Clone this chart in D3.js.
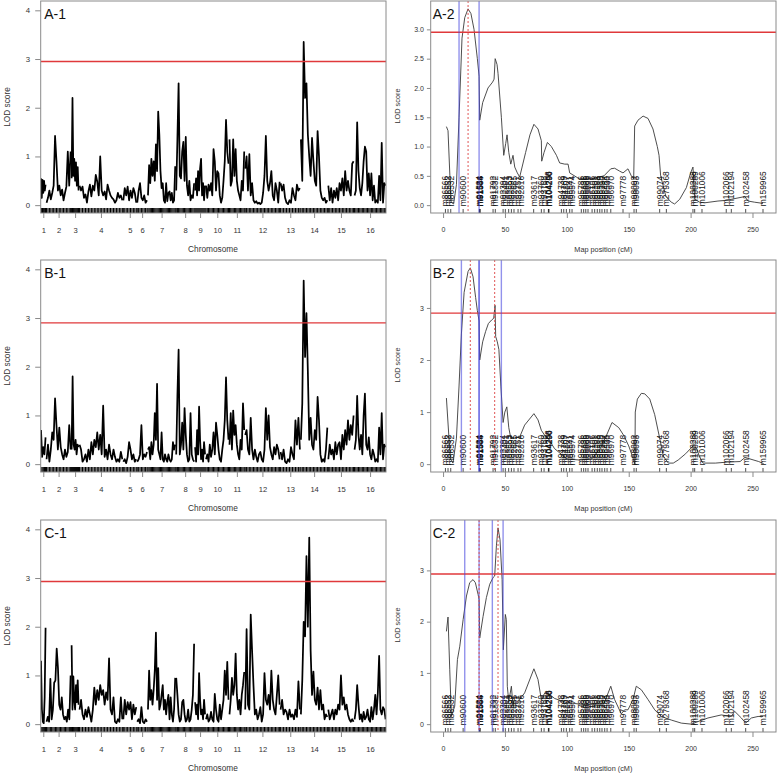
<!DOCTYPE html>
<html><head><meta charset="utf-8">
<script src="https://cdn.jsdelivr.net/npm/d3@7"></script>
<style>
body{margin:0;background:#fff}
svg{display:block;font-family:"Liberation Sans",Arial,Helvetica,sans-serif}
</style></head><body>
<svg id="c" width="778" height="774"></svg>
<script>
// ---------------- DATA ----------------
const chromosomes = ["1","2","3","4","5","6","7","8","9","10","11","12","13","14","15","16"];
const chromLengths = [46,242,70,430,130,98,274,180,100,226,148,346,194,266,254,312]; // cM
const chromGap = 10;
const yTicksGenome = [0,1,2,3,4];
const genomeYMax = 4.03;

// LOD profiles per chromosome (evenly spaced scan points along each chromosome)
const lodA1 = [
 [0.55,0.15,0.52,0.25,0.5,0.3,0.42],
 [0.05,0.15,0.3,0.12,0.25,0.4,1.42,0.9,0.3,0.4,0.2,0.32,0.1,0.25,0.38,1.1,0.4,1.1],
 [0.55,2.2,0.6,0.95,0.5,0.88,0.4,0.78,0.3],
 [0.4,0.3,0.38,0.15,0.22,0.05,0.28,0.42,0.18,0.4,0.3,0.62,0.48,0.2,1.0,0.3,0.2,0.28,0.12,0.42,0.3,0.2,0.15,0.12,0.05,0.1,0.25,0.15,0.2,0.1],
 [0.1,0.35,0.2,0.38,0.1,0.3,0.15,0.35,0.25,0.05],
 [0.05,0.3,0.45,0.15,0.1,0.2,0.05,0.1],
 [0.2,0.82,0.45,0.95,0.6,0.9,0.5,1.25,0.7,1.92,1.45,0.7,0.35,0.45,0.1,0.05,0.45,0.08,0.25,0.28,0.1,0.25,0.05,0.1,0.8],
 [0.3,1.35,2.5,0.6,0.55,1.1,1.3,0.5,1.4,0.4,0.2,0.5,0.1,0.2,0.15,0.45],
 [0.3,0.55,0.2,0.7,0.3,0.75,0.95,0.2,0.45,0.1,0.4],
 [0.4,0.15,0.42,0.3,0.45,0.2,1.15,0.9,0.3,0.7,0.65,0.2,0.05,0.15,0.5,0.9,1.75,1.1,0.85],
 [1.35,0.4,0.5,1.35,0.6,1.15,0.5,0.3,0.2,0.1,0.5,0.3,1.1],
 [0.75,1.0,0.3,1.05,0.2,0.45,0.1,0.05,0.08,0.03,0.05,0.02,0.05,0.25,0.6,1.42,0.5,0.3,0.45,0.7,0.2,0.1,0.45,0.3,0.05,0.48],
 [0.45,0.3,0.42,0.15,0.05,0.02,0.1,0.05,0.35,0.2,0.1,0.42,0.3,0.35],
 [1.35,0.5,3.35,2.2,2.5,1.45,1.0,0.6,1.38,0.9,0.5,0.4,1.52,1.0,0.3,0.15,0.1,0.15,0.05,0.1],
 [0.4,0.1,0.35,0.05,0.3,0.15,0.35,0.1,0.45,0.3,0.55,0.2,0.7,0.3,0.5,0.3,0.2,0.85,0.9],
 [0.2,0.3,1.7,0.7,0.35,0.2,0.45,0.9,1.2,1.1,0.3,0.65,0.2,0.65,0.1,0.4,0.05,0.1,0.05,0.6,0.1,1.28,0.05,0.45,0.4]
];
const lodB1 = [
 [0.7,0.15,0.35,0.2,0.55],
 [0.1,0.4,0.05,0.3,0.65,0.5,1.35,0.8,0.3,0.75,0.35,0.2,0.1,0.3,0.15,0.25,0.8,0.3],
 [0.3,1.8,0.4,0.3,0.5,0.2,0.4,0.35],
 [0.4,0.3,0.05,0.1,0.2,0.05,0.3,0.1,0.45,0.2,0.5,0.35,0.65,0.3,0.6,0.2,1.2,0.15,0.3,0.1,0.4,0.2,0.1,0.3,0.15,0.05,0.1,0.05,0.25,0.1],
 [0.05,0.1,0.02,0.15,0.45,0.3,0.1,0.2,0.05,0.1],
 [0.05,0.1,0.2,0.8,0.1,0.2,0.15,0.25],
 [0.3,0.35,0.1,0.45,0.2,0.4,1.05,0.5,1.65,0.3,0.2,0.1,0.65,0.1,0.05,0.2,0.1,0.05,0.2,0.1,0.05,0.1,0.45,0.3,0.4],
 [0.2,1.4,2.35,0.2,0.4,0.85,0.3,1.15,0.6,0.2,0.05,0.1,1.05,0.2,0.1,0.05],
 [0.35,0.05,0.7,0.2,1.18,0.5,0.1,0.3,0.05,0.45,0.2],
 [0.1,0.2,0.05,0.4,0.15,0.3,0.65,0.2,0.85,0.6,0.3,0.1,0.05,0.3,0.5,0.9,1.78,0.9,0.5],
 [0.4,1.05,0.3,1.1,0.6,0.8,0.4,0.2,0.1,0.5,0.3,1.25,0.7],
 [0.6,0.7,0.3,0.2,0.95,0.3,0.1,0.3,0.15,0.05,0.2,0.25,0.1,0.05,0.3,1.15,0.5,1.0,0.35,0.2,0.1,0.35,0.2,0.4,0.3,0.1],
 [0.25,0.1,0.3,0.05,0.02,0.1,0.05,0.35,0.2,0.1,0.9,0.4,0.95,0.3],
 [0.5,1.25,3.77,2.2,3.1,1.9,0.5,0.95,0.4,0.3,0.7,0.5,1.38,0.9,0.2,0.05,0.1,0.05,0.3,0.75],
 [0.1,0.4,0.2,0.3,0.1,0.45,0.2,0.4,0.45,0.1,0.6,0.3,0.7,0.4,0.9,0.5,0.8,0.6,1.0],
 [0.3,0.5,1.4,0.6,0.3,0.6,0.2,1.0,1.45,0.4,0.3,0.55,0.2,0.1,0.3,0.2,0.05,0.1,0.05,0.75,0.2,1.05,0.1,0.4,0.35]
];
const lodC1 = [
 [1.3,0.3,0.05,0.02,0.55,1.98],
 [0.05,0.15,0.05,0.93,0.1,0.3,0.85,0.9,1.55,1.15,0.4,0.3,0.55,0.2,0.1,0.15,0.05,0.3,0.1,1.0],
 [1.62,0.3,0.98,0.5,0.3,0.8,0.45,0.9,0.4],
 [0.3,0.5,0.2,0.1,0.3,0.15,0.35,0.2,0.05,0.3,0.75,0.4,0.7,0.5,0.8,0.6,0.7,0.4,0.65,0.5,1.35,0.3,0.2,0.55,0.05,0.02,0.1,0.05,0.55,0.1],
 [0.1,0.5,0.2,0.45,0.3,0.45,0.1,0.4,0.2,0.35],
 [0.05,0.1,0.02,0.35,0.05,0.02,0.1,0.05],
 [0.3,1.1,0.5,0.7,0.4,0.7,1.1,1.88,0.5,1.15,0.3,0.4,0.6,0.8,0.3,0.5,0.2,0.45,0.6,0.1,0.55,0.2,0.05,0.3,0.95],
 [0.95,0.6,0.2,0.05,0.1,0.45,0.5,0.2,0.05,0.1,0.3,0.05,0.1,0.3,0.6,1.65],
 [0.45,0.2,0.4,0.1,1.05,0.5,0.2,0.3,0.1,0.5,0.2],
 [0.1,0.2,0.05,0.1,0.25,0.1,0.05,0.62,0.3,0.1,0.05,0.4,0.1,0.3,0.5,1.1,0.6,1.28,0.5],
 [0.2,0.5,0.95,0.6,0.8,1.45,0.6,0.3,0.5,0.2,0.6,0.8,1.07],
 [0.3,1.95,0.4,0.3,2.25,1.5,0.8,0.2,0.3,0.1,0.2,0.35,0.05,0.2,1.05,0.5,0.4,0.6,0.3,1.1,0.5,0.3,0.2,0.6,1.0,0.4],
 [0.3,0.5,0.2,0.3,0.25,0.1,0.3,0.15,0.2,0.1,0.3,0.15,0.88,0.3],
 [0.2,0.9,2.1,1.8,3.45,2.0,3.83,1.5,0.6,1.08,0.5,0.4,0.75,0.3,0.7,0.3,0.4,0.1,0.2,0.15],
 [0.3,0.1,0.2,0.3,0.1,0.3,0.2,0.4,0.3,1.0,0.4,0.55,0.3,0.4,0.2,0.1,0.05,0.1,0.05],
 [0.1,0.3,0.8,0.4,0.1,0.2,0.05,0.25,0.1,0.15,0.3,0.1,0.05,0.35,0.1,0.3,0.6,0.2,0.65,1.4,0.3,0.2,0.35,0.3,0.1]
];

// Chromosome 14 map: marker names and positions (cM)
const markerNames = ["m86566","m86552","m86532","m90600","m91534","m91538","m91544","m91554","m91792","m91832",
 "m92394","m92401","m92553","m92597","m92665","m92751","m92816","m93617","m93760","m93768",
 "m104288","m104290","m104296","m94738","m94769","m94807","m95541","m95574","m95786","m95836",
 "m95889","m95899","m96106","m96201","m96288","m96319","m96390","m96484","m96530","m96970",
 "m97778","m98092","m98093","m99074","m279368","m100288","m100289","m101006","m102066","m102194",
 "m102458","m159965"];
const markerPos = [1.9,4.0,6.2,16.2,29.3,29.5,29.7,29.9,40.4,42.2,
 48.5,50.3,53.0,55.2,57.3,60.6,62.8,73.2,79.4,81.6,
 85.1,85.3,85.5,95.6,97.5,99.6,102.3,104.2,111.7,113.6,
 115.3,117.1,120.4,122.5,124.6,126.6,128.4,130.6,132.5,135.5,
 145.4,154.3,156.1,175.0,180.4,201.9,203.3,209.2,228.8,232.9,
 244.5,258.5];
const xTicksMap = [0,50,100,150,200,250];
const mapXLim = [-10,269];

// LOD along chromosome 14: [cM, LOD]
const curveA2 = [[2.7,1.34],[4.0,1.27],[5.5,0.5],[6.5,0.05],[8.5,0.02],[10.8,0.35],[12.9,1.5],[15.3,2.85],[17.5,3.2],[20.2,3.35],[22.5,3.27],[25,3.0],[27.7,2.5],[29.1,2.2],[29.6,1.45],[32,1.75],[36.3,2.0],[40,2.1],[41.2,2.15],[42.1,2.5],[43.6,2.4],[44.4,2.25],[47.1,1.5],[49,0.85],[50.6,1.05],[51.7,1.2],[53.1,0.9],[54.7,0.7],[56.5,0.85],[57.9,0.65],[60,0.55],[61.9,0.48],[66.7,0.9],[70.2,1.2],[73.4,1.38],[76.7,1.3],[79.4,1.1],[79.7,0.75],[81.6,0.9],[84.3,1.07],[87.5,1.0],[91.6,0.85],[94.2,0.72],[98.3,0.7],[101,0.7],[102.3,0.55],[110,0.45],[120,0.45],[130,0.5],[135.5,0.62],[138.6,0.63],[142.7,0.58],[145.4,0.55],[149.4,0.62],[152.1,0.5],[154,0.45],[154.8,1.35],[157.5,1.45],[161.6,1.52],[165.6,1.48],[169.6,1.3],[173.1,1.0],[174.5,0.85],[175.8,0.5],[180,0.15],[184.4,0.05],[187.1,0.02],[191.2,0.1],[196.6,0.3],[200,0.55],[201.9,0.65],[203.3,0.1],[207.3,0.05],[211.4,0.04],[222.1,0.07],[227.5,0.08],[232.9,0.1],[242.3,0.14],[243.7,0.15],[246.4,0.07],[251.8,0.05],[258.5,0.03]];
const curveB2 = [[2.7,1.27],[4.6,0.56],[5.9,0.1],[8,0.02],[10.8,0.5],[12.9,1.5],[14.8,2.5],[17,3.3],[20.2,3.7],[22,3.77],[24.2,3.6],[26.3,3.2],[27.7,2.95],[29.1,2.75],[29.6,2.0],[32,2.35],[34.4,2.55],[36.6,2.7],[39.3,2.77],[40.9,2.8],[42,3.05],[42.5,2.45],[43.8,2.35],[45.1,2.2],[46.7,1.5],[48.5,0.8],[49.9,1.0],[51.5,1.1],[53.1,0.7],[54.7,0.5],[57.9,0.5],[61.9,0.52],[65.9,0.75],[73.4,0.97],[76.7,0.85],[79.4,0.65],[82.2,0.55],[84.8,0.5],[90,0.3],[100,0.1],[110,0.08],[120,0.1],[127,0.3],[132,0.55],[136.5,0.8],[142,0.7],[146,0.55],[150,0.35],[153,0.15],[155,0.0],[155.3,1.0],[157,1.25],[160.2,1.36],[163,1.35],[167,1.25],[171,0.95],[175,0.5],[178,0.15],[182,0.02],[186,0.02],[190,0.08],[196,0.2],[202,0.35],[205,0.3],[207,0.15],[210,0.02],[220,0.02],[230,0.04],[240,0.05],[244,0.13],[248,0.1],[255,0.05],[259,0.01]];
const curveC2 = [[2.7,1.81],[4.0,2.09],[5.4,1.06],[6.7,0.15],[9.4,0.35],[11.6,1.26],[13.5,1.52],[16.2,2.04],[18.9,2.5],[21.5,2.76],[24.2,2.82],[26.1,2.76],[28.3,2.53],[29.1,2.43],[29.6,1.68],[32.3,2.1],[35,2.47],[37.7,2.73],[40.4,2.86],[41.7,2.89],[43.1,3.48],[44.4,3.83],[46,3.6],[47.7,2.82],[48.7,1.45],[50.3,2.14],[51.1,2.04],[51.9,0.74],[53.1,0.44],[55.2,0.74],[56.5,0.35],[57.9,0.54],[61.9,0.48],[65.9,0.61],[73.4,1.08],[76.7,0.87],[79.4,0.48],[82.2,0.61],[84.8,0.6],[90.2,0.5],[100,0.42],[115,0.38],[130,0.4],[135.5,0.74],[138.6,0.48],[144,0.2],[146.7,0.28],[149.4,0.28],[153.5,0.48],[156.1,0.74],[160.2,0.67],[165.6,0.48],[171,0.28],[176.3,0.15],[184.4,0.08],[192.5,0.02],[200.6,0.0],[206,0.05],[214,0.12],[224.8,0.18],[232.9,0.15],[235.6,0.25],[241,0.12],[244.5,0.02],[249.1,0.12],[254.5,0.15],[258.5,0.15]];

const thresholds = [2.95, 2.9, 2.93];
const peaksA = [20.2], ciA = [[12.9,29.1]];
const peaksB = [22.0,41.7], ciB = [[14.8,29.1],[29.1,47.1]];
const peaksC = [29.1,44.4], ciC = [[17.5,29.1],[39.8,48.5]];
const yTicksA2 = [0,0.5,1,1.5,2,2.5,3];
const yTicksBC2 = [0,1,2,3];
const panelLabels = ["A-1","A-2","B-1","B-2","C-1","C-2"];

// ---------------- LAYOUT ----------------
const svg = d3.select("#c");
const rowsTop = [1, 260, 520];
const H = 212;
const LP = {x0:40.7, x1:386}, RP = {x0:430.7, x1:776};
const FRAME = "#8a8a8a", TXT = "#333";

const chromStart = []; let acc = 0;
chromLengths.forEach(len => { chromStart.push(acc); acc += len + chromGap; });
const genomeEnd = acc - chromGap;
const chromMid = chromLengths.map((len,i) => chromStart[i] + len/2);
const xGenome = d3.scaleLinear().domain([-3, genomeEnd + 4]).range([LP.x0, LP.x1]);
const xMap = d3.scaleLinear().domain(mapXLim).range([RP.x0, RP.x1]);

let clipN = 0;
function clip(x0, T, w){
  const id = "cl" + (clipN++);
  svg.append("clipPath").attr("id", id).append("rect")
    .attr("x", x0).attr("y", T).attr("width", w).attr("height", H);
  return `url(#${id})`;
}
function styleAxis(g, fs){
  g.select(".domain").remove();
  g.selectAll(".tick line").attr("stroke", FRAME).attr("stroke-width", 1);
  g.selectAll(".tick text").attr("fill", TXT).attr("font-size", fs)
    .attr("font-family", '"Liberation Sans",Arial,sans-serif');
}

function drawGenome(T, lod, label, thr){
  const y = d3.scaleLinear().domain([-0.04*genomeYMax, genomeYMax*1.04]).range([T+H, T]);
  const plot = svg.append("g").attr("clip-path", clip(LP.x0, T, LP.x1-LP.x0));
  lod.forEach((vals, ci) => {
    const pts = vals.map((v,i) => [chromStart[ci] + (i/(vals.length-1))*chromLengths[ci], v]);
    plot.append("path")
      .attr("d", d3.line().x(d => xGenome(d[0])).y(d => y(d[1]))(pts))
      .attr("fill","none").attr("stroke","#000").attr("stroke-width",1.75).attr("stroke-linejoin","round");
    plot.selectAll(null).data(pts).join("line")
      .attr("x1", d => xGenome(d[0])).attr("x2", d => xGenome(d[0]))
      .attr("y1", T+H).attr("y2", T+H-5).attr("stroke","#000").attr("stroke-width",1.1);
  });
  plot.append("line").attr("x1",LP.x0).attr("x2",LP.x1).attr("y1",y(thr)).attr("y2",y(thr))
    .attr("stroke","#e0393b").attr("stroke-width",1.4);
  svg.append("rect").attr("x",LP.x0).attr("y",T).attr("width",LP.x1-LP.x0).attr("height",H)
    .attr("fill","none").attr("stroke",FRAME).attr("stroke-width",1);
  const ya = svg.append("g").attr("transform",`translate(${LP.x0},0)`)
    .call(d3.axisLeft(y).tickValues(yTicksGenome).tickFormat(d3.format("d")).tickSize(5.5).tickPadding(5));
  styleAxis(ya, 7.8);
  const xa = svg.append("g").attr("transform",`translate(0,${T+H})`)
    .call(d3.axisBottom(xGenome).tickValues(chromMid).tickFormat((d,i) => chromosomes[i]).tickSize(5).tickPadding(9.5));
  styleAxis(xa, 7.6);
  svg.append("text").attr("x",213).attr("y",T+248).attr("dy","0.35em").attr("text-anchor","middle")
    .attr("font-size",8.3).attr("fill",TXT).text("Chromosome");
  svg.append("text").attr("transform",`translate(7,${T+106}) rotate(-90)`).attr("dy","0.35em")
    .attr("text-anchor","middle").attr("font-size",8.3).attr("fill",TXT).text("LOD score");
  svg.append("text").attr("x",LP.x0+3.5).attr("y",T+18.3).attr("font-size",14).attr("fill","#111").text(label);
}

function drawMap(T, curve, label, thr, peaks, cis, yTicks, fmt){
  const ymax = d3.max(curve, d => d[1]);
  const y = d3.scaleLinear().domain([-0.04*ymax, ymax*1.04]).range([T+H, T]);
  const plot = svg.append("g").attr("clip-path", clip(RP.x0, T, RP.x1-RP.x0));
  plot.append("path").attr("d", d3.line().x(d => xMap(d[0])).y(d => y(d[1]))(curve))
    .attr("fill","none").attr("stroke","#3a3a3a").attr("stroke-width",0.9);
  const labY = y(0) + 1;
  plot.selectAll(null).data(markerNames).join("text")
    .attr("transform",(d,i) => `translate(${xMap(markerPos[i])},${labY}) rotate(-90)`)
    .attr("dy","0.35em").attr("font-size",8.4).attr("fill","#111").text(d => d);
  plot.selectAll(null).data(markerPos).join("line")
    .attr("x1", d => xMap(d)).attr("x2", d => xMap(d))
    .attr("y1", T+H).attr("y2", T+H-4).attr("stroke","#222").attr("stroke-width",0.8);
  plot.append("line").attr("x1",RP.x0).attr("x2",RP.x1).attr("y1",y(thr)).attr("y2",y(thr))
    .attr("stroke","#e0393b").attr("stroke-width",1.4);
  cis.flat().forEach(c => {
    plot.append("line").attr("x1",xMap(c)).attr("x2",xMap(c)).attr("y1",T).attr("y2",T+H)
      .attr("stroke","#4a4ae0").attr("stroke-opacity",0.6).attr("stroke-width",1.4);
  });
  peaks.forEach(p => {
    plot.append("line").attr("x1",xMap(p)).attr("x2",xMap(p)).attr("y1",T).attr("y2",T+H)
      .attr("stroke","#e05555").attr("stroke-width",1).attr("stroke-dasharray","2,2");
  });
  svg.append("rect").attr("x",RP.x0).attr("y",T).attr("width",RP.x1-RP.x0).attr("height",H)
    .attr("fill","none").attr("stroke",FRAME).attr("stroke-width",1);
  const ya = svg.append("g").attr("transform",`translate(${RP.x0},0)`)
    .call(d3.axisLeft(y).tickValues(yTicks).tickFormat(d3.format(fmt)).tickSize(3.8).tickPadding(3));
  styleAxis(ya, 7);
  const xa = svg.append("g").attr("transform",`translate(0,${T+H})`)
    .call(d3.axisBottom(xMap).tickValues(xTicksMap).tickFormat(d3.format("d")).tickSize(5).tickPadding(9));
  styleAxis(xa, 7);
  svg.append("text").attr("x",(RP.x0+RP.x1)/2).attr("y",T+248.5).attr("dy","0.35em").attr("text-anchor","middle")
    .attr("font-size",7.3).attr("fill",TXT).text("Map position (cM)");
  svg.append("text").attr("transform",`translate(397,${T+105}) rotate(-90)`).attr("dy","0.35em")
    .attr("text-anchor","middle").attr("font-size",7.3).attr("fill",TXT).text("LOD score");
  svg.append("text").attr("x",RP.x0+2).attr("y",T+18.3).attr("font-size",14).attr("fill","#111").text(label);
}

drawGenome(rowsTop[0], lodA1, panelLabels[0], thresholds[0]);
drawGenome(rowsTop[1], lodB1, panelLabels[2], thresholds[1]);
drawGenome(rowsTop[2], lodC1, panelLabels[4], thresholds[2]);
drawMap(rowsTop[0], curveA2, panelLabels[1], thresholds[0], peaksA, ciA, yTicksA2, ".1f");
drawMap(rowsTop[1], curveB2, panelLabels[3], thresholds[1], peaksB, ciB, yTicksBC2, "d");
drawMap(rowsTop[2], curveC2, panelLabels[5], thresholds[2], peaksC, ciC, yTicksBC2, "d");
</script>
</body></html>
